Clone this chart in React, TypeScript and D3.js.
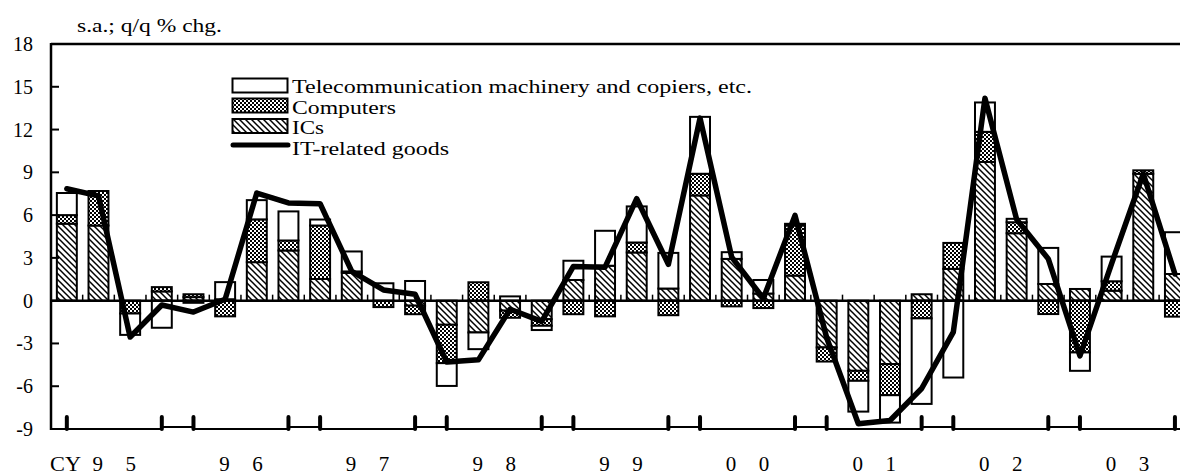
import React from 'react';
import * as d3 from 'd3';

const quarters = [
  '95Q1','95Q2','95Q3','95Q4','96Q1','96Q2','96Q3','96Q4','97Q1','97Q2','97Q3','97Q4',
  '98Q1','98Q2','98Q3','98Q4','99Q1','99Q2','99Q3','99Q4','00Q1','00Q2','00Q3','00Q4',
  '01Q1','01Q2','01Q3','01Q4','02Q1','02Q2','02Q3','02Q4','03Q1','03Q2','03Q3','03Q4'
];
const ics = [5.4, 5.27, 0, 0.65, 0.25, 0.1, 2.7, 3.52, 1.52, 1.95, 0, -0.35, -1.69, -2.23, -0.7, -1.3, 1.45, 2.45, 3.38, 0.85, 7.38, 2.93, 0.5, 1.76, -3.28, -4.92, -4.45, 0.45, 2.23, 9.73, 4.73, 1.17, 0.82, 0.7, 8.9, 1.87];
const computers = [0.6, 2.42, -0.9, 0.3, 0.2, -1.1, 3.0, 0.7, 3.75, 0.1, -0.45, -0.6, -2.69, 1.29, -0.5, -0.46, -0.95, -1.1, 0.7, -1.02, 1.52, -0.4, -0.52, 3.51, -0.99, -0.7, -2.18, -1.24, 1.82, 2.11, 0.77, -0.94, -3.63, 0.66, 0.24, -1.12];
const telecom = [1.55, 0, -1.5, -1.9, -0.15, 1.2, 1.35, 2.04, 0.42, 1.4, 1.22, 1.38, -1.6, -1.17, 0.3, -0.3, 1.35, 2.45, 2.53, 2.5, 3.99, 0.47, 0.95, 0.12, 0, -2.16, -1.92, -6.0, -5.39, 2.06, 0.24, 2.53, -1.29, 1.73, 0, 2.93];
const itGoods = [7.85, 7.35, -2.55, -0.3, -0.8, 0.1, 7.55, 6.85, 6.8, 2.05, 0.75, 0.45, -4.3, -4.15, -0.6, -1.45, 2.4, 2.35, 7.15, 2.55, 12.8, 3.05, 0.15, 5.98, -2.6, -8.63, -8.4, -6.16, -2.2, 14.2, 5.7, 2.93, -3.87, 2.6, 8.9, 1.87];
const yearLabels = [['9','5'],['9','6'],['9','7'],['9','8'],['9','9'],['0','0'],['0','1'],['0','2'],['0','3']];
const yTicks = [-9, -6, -3, 0, 3, 6, 9, 12, 15, 18];
const seriesNames = ['Telecommunication machinery and copiers, etc.', 'Computers', 'ICs', 'IT-related goods'];

const FONT = '"Liberation Serif", "Times New Roman", serif';
const W = 1180, H = 476;
const left = 51, top = 44, bottom = 429;
const step = 31.66;
const right = left + step * quarters.length;

export default function App() {
  const x = d3.scaleBand<string>().domain(quarters).range([left, right]).paddingInner(0.37).paddingOuter(0.185);
  const y = d3.scaleLinear().domain([-9, 18]).range([bottom, top]);
  const cx = (i: number) => (x(quarters[i]) as number) + x.bandwidth() / 2;

  const series = [
    { vals: ics, fill: 'url(#pIcs)' },
    { vals: computers, fill: 'url(#pComp)' },
    { vals: telecom, fill: '#fff' },
  ];
  const rects: any[] = [];
  quarters.forEach((q, i) => {
    let pos = 0, neg = 0;
    series.forEach((s, si) => {
      const v = s.vals[i];
      if (!v) return;
      let a: number, b: number;
      if (v > 0) { a = pos; b = pos + v; pos = b; } else { a = neg; b = neg + v; neg = b; }
      const y1 = y(Math.max(a, b)), y2 = y(Math.min(a, b));
      rects.push(<rect key={q + si} x={x(q)} y={y1} width={x.bandwidth()} height={y2 - y1} fill={s.fill} stroke="#000" strokeWidth={2} />);
    });
  });

  const line = d3.line<number>().x((_, i) => cx(i)).y(d => y(d));
  const y0 = y(0);

  const bp = d3.path();
  let cur = left;
  for (let k = 0; k < yearLabels.length; k++) {
    const a = cx(4 * k + 3), b = 4 * k + 4 < quarters.length ? cx(4 * k + 4) : null;
    bp.moveTo(cur, bottom); bp.lineTo(a, bottom);
    if (b !== null) { bp.moveTo(a, bottom - 2); bp.lineTo(b, bottom - 2); cur = b; } else { bp.moveTo(a, bottom); bp.lineTo(W, bottom); }
  }

  const majorIdx = quarters.map((_, i) => i).filter(i => i % 4 === 0 || i % 4 === 3);
  const minorIdx = d3.range(1, quarters.length + 1);

  return (
    <svg width={W} height={H} style={{ position: 'absolute', left: 0, top: 0 }} fontFamily={FONT}>
      <defs>
        <pattern id="pIcs" patternUnits="userSpaceOnUse" width={6} height={6}>
          <rect width={6} height={6} fill="#fff" />
          <path d="M0,0L6,6M-3,3L3,9M3,-3L9,3" stroke="#000" strokeWidth={1.5} />
        </pattern>
        <pattern id="pComp" patternUnits="userSpaceOnUse" width={4} height={4}>
          <rect width={4} height={4} fill="#000" />
          <rect width={2} height={2} fill="#fff" />
          <rect x={2} y={2} width={2} height={2} fill="#fff" />
        </pattern>
      </defs>

      <text x={77} y={31.5} fontSize={18} textLength={145} lengthAdjust="spacingAndGlyphs">s.a.; q/q % chg.</text>

      {rects}

      <line x1={left} x2={W} y1={y0} y2={y0} stroke="#000" strokeWidth={2.5} />
      {minorIdx.map(k => (
        <line key={'m' + k} x1={left + step * k} x2={left + step * k} y1={y0} y2={y0 - 6} stroke="#000" strokeWidth={1.5} />
      ))}

      <line x1={left} x2={W} y1={top} y2={top} stroke="#000" strokeWidth={2.5} />
      <line x1={left} x2={left} y1={top - 1} y2={bottom + 1} stroke="#000" strokeWidth={2.5} />
      <path d={bp.toString()} stroke="#000" strokeWidth={2.2} fill="none" />
      {majorIdx.map(i => (
        <line key={'M' + i} x1={cx(i)} x2={cx(i)} y1={bottom - 12} y2={bottom} stroke="#000" strokeWidth={4} strokeLinecap="round" />
      ))}

      {yTicks.map(t => (
        <g key={'y' + t}>
          <line x1={left} x2={left + 8} y1={y(t)} y2={y(t)} stroke="#000" strokeWidth={2} />
          <text x={33} y={y(t)} dy="0.35em" textAnchor="end" fontSize={20}>{t}</text>
        </g>
      ))}

      <path d={line(itGoods) as string} fill="none" stroke="#000" strokeWidth={5.5} strokeLinejoin="round" strokeLinecap="round" />

      <text x={50} y={471} fontSize={20} textLength={31} lengthAdjust="spacingAndGlyphs">CY</text>
      {yearLabels.map((yl, k) => {
        const c = left + step * (4 * k + 2);
        return (
          <g key={'yr' + k}>
            <text x={c - 16.5} y={471} fontSize={21} textAnchor="middle">{yl[0]}</text>
            <text x={c + 16.5} y={471} fontSize={21} textAnchor="middle">{yl[1]}</text>
          </g>
        );
      })}

      <rect x={232.5} y={78.5} width={55} height={14} fill="#fff" stroke="#000" strokeWidth={2} />
      <rect x={232.5} y={98.5} width={55} height={14} fill="url(#pComp)" stroke="#000" strokeWidth={2} />
      <rect x={232.5} y={119} width={55} height={14} fill="url(#pIcs)" stroke="#000" strokeWidth={2} />
      <line x1={233} x2={288} y1={145} y2={145} stroke="#000" strokeWidth={5} strokeLinecap="round" />
      <text x={292} y={93} fontSize={19.5} textLength={460} lengthAdjust="spacingAndGlyphs">{seriesNames[0]}</text>
      <text x={292} y={113.5} fontSize={19.5} textLength={104} lengthAdjust="spacingAndGlyphs">{seriesNames[1]}</text>
      <text x={292} y={134} fontSize={19.5} textLength={32} lengthAdjust="spacingAndGlyphs">{seriesNames[2]}</text>
      <text x={292} y={155} fontSize={19.5} textLength={157} lengthAdjust="spacingAndGlyphs">{seriesNames[3]}</text>
    </svg>
  );
}
